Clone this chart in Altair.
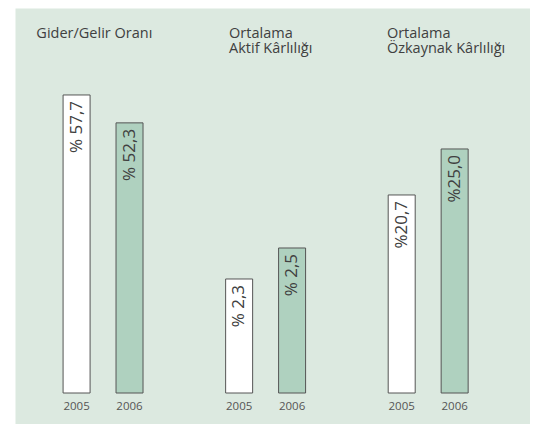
import altair as alt
import pandas as pd

# ---- data ----
GROUPS = [["Gider/Gelir Oranı"], ["Ortalama", "Aktif Kârlılığı"], ["Ortalama", "Özkaynak Kârlılığı"]]
YEARS = ["2005", "2006"]
VALUES = [[57.7, 52.3], [2.3, 2.5], [20.7, 25.0]]
LABELS = [["% 57,7", "% 52,3"], ["% 2,3", "% 2,5"], ["%20,7", "%25,0"]]

# ---- layout (visual scaling of the original design, per panel) ----
GROUP_STEP = 3.07           # distance between groups in bar-slot units
TITLE_SHIFT = [-0.76, -0.19, -0.28]
BASE = [0.0, 1.5645, 2.19]  # value at which each group's bars start
PX_PER_UNIT = [5.165, 155.0, 10.698]
W, H = 515, 416
BOTTOM_GAP = 31             # px between plot bottom and bar baseline
X_DOMAIN = [-57.7 / 54, (W - 57.7) / 54]

BG = "#dce9e0"
TXT = "#404040"
FONT = "Open Sans"

rows = []
for g in range(len(GROUPS)):
    for yi, yr in enumerate(YEARS):
        rows.append({"group": g, "year": yr, "value": VALUES[g][yi],
                     "label": LABELS[g][yi], "pos": g * GROUP_STEP + yi,
                     "base": BASE[g]})
df = pd.DataFrame(rows)

xenc = alt.X("pos:Q", scale=alt.Scale(domain=X_DOMAIN), axis=None)

layers = []
for g in range(len(GROUPS)):
    k = PX_PER_UNIT[g]
    ymin = BASE[g] - BOTTOM_GAP / k
    ymax = ymin + H / k
    sub = df[df["group"] == g]
    base = alt.Chart(sub)
    yenc = alt.Y("value:Q", scale=alt.Scale(domain=[ymin, ymax], nice=False, zero=False), axis=None)
    bars = base.mark_bar(size=27, stroke="#555555", strokeWidth=1).encode(
        x=xenc,
        y=yenc,
        y2=alt.Y2("base:Q"),
        fill=alt.Fill("year:N", scale=alt.Scale(domain=YEARS, range=["#ffffff", "#afd1bf"]), legend=None),
    )
    txt = base.mark_text(angle=270, align="right", baseline="middle", dx=-6,
                         font=FONT, fontSize=17, color=TXT).encode(
        x=xenc, y=yenc, text="label:N")
    layers.append(alt.layer(bars, txt))

trows = []
for g, lines in enumerate(GROUPS):
    for li, line in enumerate(lines):
        trows.append({"title": line, "line": li, "pos": g * GROUP_STEP + TITLE_SHIFT[g]})
tdf = pd.DataFrame(trows)

title_layers = []
for li, yv in enumerate([30, 45]):
    title_layers.append(
        alt.Chart(tdf[tdf["line"] == li]).mark_text(
            align="left", baseline="alphabetic", font=FONT, fontSize=14.5, color=TXT
        ).encode(x=xenc, y=alt.value(yv), text="title:N")
    )

years = alt.Chart(df).mark_text(align="center", baseline="middle", font=FONT,
                                fontSize=11.5, color="#555555").encode(
    x=xenc, y=alt.value(399), text="year:N")

chart = alt.layer(*layers, *title_layers, years).resolve_scale(
    y="independent", fill="shared"
).properties(
    width=W, height=H,
    padding={"left": 7, "top": 0, "right": 0, "bottom": 0},
    autosize=alt.AutoSizeParams(type="none"),
).configure(background="white").configure_view(fill=BG, stroke="transparent")

chart.save("out.html", embed_options={"renderer": "svg", "actions": False})
